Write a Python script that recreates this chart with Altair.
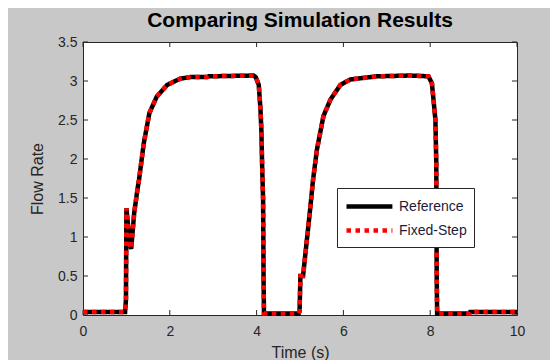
import altair as alt
import pandas as pd

# ---- data ----
time_s = [0.0, 0.97, 0.99, 1.0, 1.08, 1.11, 1.18, 1.26, 1.29, 1.40, 1.53, 1.70, 1.94,
          2.24, 2.47, 2.86, 2.90, 3.93, 3.98, 4.05, 4.09, 4.11, 4.13, 4.15, 4.16, 4.17,
          4.97, 4.99, 5.01, 5.07, 5.16, 5.24, 5.30, 5.39, 5.54, 5.70, 5.93, 6.16, 6.77,
          7.54, 7.96, 8.04, 8.12, 8.14, 8.15, 8.16, 8.90, 8.92, 10.0]
flow_reference = [0.04, 0.04, 0.2, 1.37, 0.9, 0.85, 1.31, 1.63, 1.73, 2.20, 2.59, 2.80, 2.95,
                  3.03, 3.05, 3.05, 3.06, 3.07, 3.05, 2.95, 2.63, 2.37, 1.86, 1.48, 0.5, 0.02,
                  0.02, 0.05, 0.5, 0.5, 0.97, 1.39, 1.73, 2.12, 2.55, 2.76, 2.95, 3.02, 3.06,
                  3.07, 3.06, 2.97, 2.50, 1.95, 0.5, 0.02, 0.02, 0.04, 0.04]
flow_fixed_step = [0.04, 0.04, 0.2, 1.37, 0.9, 0.85, 1.31, 1.63, 1.73, 2.20, 2.59, 2.80, 2.95,
                   3.03, 3.05, 3.05, 3.06, 3.07, 3.05, 2.95, 2.63, 2.37, 1.86, 1.48, 0.5, 0.02,
                   0.02, 0.05, 0.5, 0.5, 0.97, 1.39, 1.73, 2.12, 2.55, 2.76, 2.95, 3.02, 3.06,
                   3.07, 3.06, 2.97, 2.50, 1.95, 0.5, 0.02, 0.02, 0.04, 0.04]
series_names = ["Reference", "Fixed-Step"]
series_colors = ["#000000", "#ff0000"]
series_dashes = [[1, 0], [4.5, 4.5]]
x_ticks = [0, 2, 4, 6, 8, 10]
y_ticks = [0, 0.5, 1, 1.5, 2, 2.5, 3, 3.5]

idx = list(range(len(time_s)))
df = pd.concat([
    pd.DataFrame({"t": time_s, "v": flow_reference, "series": "Reference", "i": idx}),
    pd.DataFrame({"t": time_s, "v": flow_fixed_step, "series": "Fixed-Step", "i": idx}),
])
xt = pd.DataFrame({"t": x_ticks})
yt = pd.DataFrame({"v": y_ticks})

W, H = 434, 273
FONT = "Liberation Sans"
AX = "#262626"

xs = alt.Scale(domain=[0, 10], nice=False, zero=False)
ys = alt.Scale(domain=[0, 3.5], nice=False, zero=False)

x_axis = alt.Axis(values=x_ticks, format="d", title="Time (s)", grid=False, ticks=False,
                  domain=False, labelFlush=False, labelOverlap=False, labelFontSize=14,
                  labelFont=FONT, labelColor=AX, labelPadding=9, titleFontSize=16,
                  titleFont=FONT, titleFontWeight="normal", titleColor=AX, titlePadding=6)
y_axis = alt.Axis(values=y_ticks, format="~g", title="Flow Rate", grid=False, ticks=False,
                  domain=False, labelFlush=False, labelOverlap=False, labelFontSize=14,
                  labelFont=FONT, labelColor=AX, labelPadding=6, titleFontSize=16,
                  titleFont=FONT, titleFontWeight="normal", titleColor=AX, titlePadding=12)

X = alt.X("t:Q", scale=xs, axis=x_axis)
Y = alt.Y("v:Q", scale=ys, axis=y_axis)

leg = alt.Legend(title=None, orient="none", legendX=254, legendY=146, fillColor="white",
                 strokeColor=AX, padding=7, labelFontSize=14, labelFont=FONT,
                 labelColor="#1c1c3a", symbolType="M-1,0H4.1", symbolSize=324,
                 symbolStrokeWidth=4.5, labelOffset=32, rowPadding=3)
color = alt.Color("series:N", scale=alt.Scale(domain=series_names, range=series_colors),
                  legend=leg)
dash = alt.StrokeDash("series:N", scale=alt.Scale(domain=series_names, range=series_dashes),
                      legend=leg)

ticks_bottom = alt.Chart(xt).mark_rule(color=AX, strokeWidth=1).encode(
    x=X, y=alt.value(H), y2=alt.value(H - 5))
ticks_top = alt.Chart(xt).mark_rule(color=AX, strokeWidth=1).encode(
    x=X, y=alt.value(0), y2=alt.value(5))
ticks_left = alt.Chart(yt).mark_rule(color=AX, strokeWidth=1).encode(
    y=Y, x=alt.value(0), x2=alt.value(5))
ticks_right = alt.Chart(yt).mark_rule(color=AX, strokeWidth=1).encode(
    y=Y, x=alt.value(W), x2=alt.value(W - 5))

base = alt.Chart(df)
ref_line = base.transform_filter(alt.datum.series == "Reference").mark_line(
    strokeWidth=4.5, strokeCap="butt", strokeJoin="miter").encode(
    x=X, y=Y, color=color, strokeDash=dash, order="i:Q")
fix_line = base.transform_filter(alt.datum.series == "Fixed-Step").mark_line(
    strokeWidth=4.5, strokeCap="butt", strokeJoin="miter").encode(
    x=X, y=Y, color=color, strokeDash=dash, order="i:Q")

chart = alt.layer(ticks_bottom, ticks_top, ticks_left, ticks_right, ref_line, fix_line).properties(
    width=W, height=H,
    title=alt.TitleParams("Comparing Simulation Results", fontSize=21, font=FONT,
                          fontWeight="bold", color="#000000", anchor="middle",
                          frame="group", offset=13, baseline="alphabetic", dy=26),
    padding={"left": 75, "top": 34, "right": 33, "bottom": 45},
    autosize=alt.AutoSizeParams(type="none"),
    background="#c8c8c8",
).configure_view(stroke=AX, strokeWidth=1, fill="white")

chart.save("out.html", embed_options={"renderer": "svg", "actions": False})
